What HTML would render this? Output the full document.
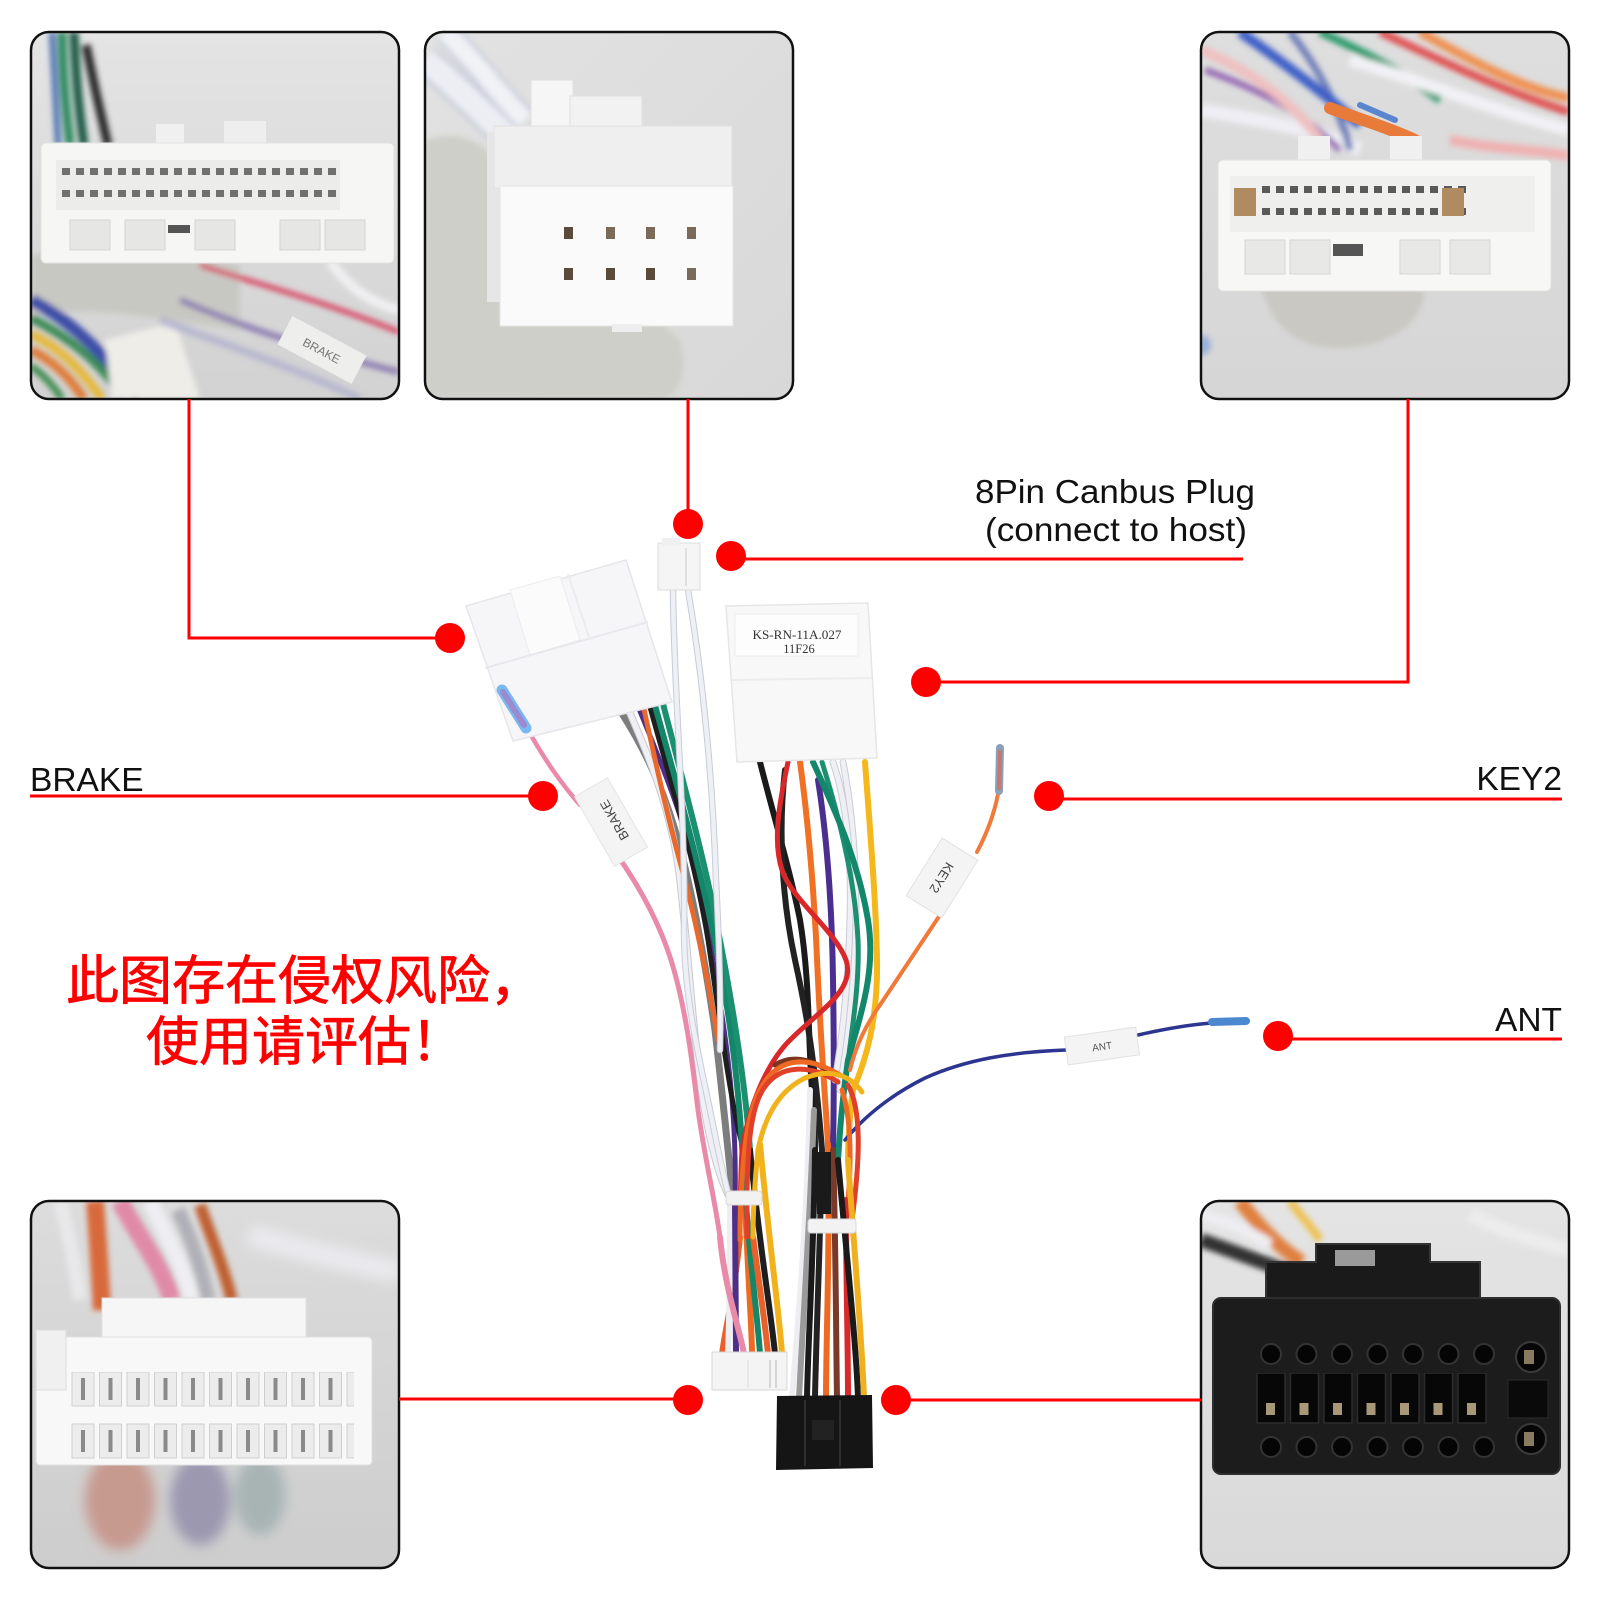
<!DOCTYPE html>
<html><head><meta charset="utf-8">
<style>
html,body{margin:0;padding:0;background:#fff;}
svg{display:block;}
</style></head><body>
<svg width="1600" height="1600" viewBox="0 0 1600 1600" xmlns="http://www.w3.org/2000/svg">
<defs>
  <clipPath id="cTL"><rect x="31" y="32" width="368" height="367" rx="18"/></clipPath>
  <clipPath id="cTM"><rect x="425" y="32" width="368" height="367" rx="18"/></clipPath>
  <clipPath id="cTR"><rect x="1201" y="32" width="368" height="367" rx="18"/></clipPath>
  <clipPath id="cBL"><rect x="31" y="1201" width="368" height="367" rx="18"/></clipPath>
  <clipPath id="cBR"><rect x="1201" y="1201" width="368" height="367" rx="18"/></clipPath>
  <filter id="b3" x="-20%" y="-20%" width="140%" height="140%"><feGaussianBlur stdDeviation="3"/></filter>
  <filter id="b6" x="-20%" y="-20%" width="140%" height="140%"><feGaussianBlur stdDeviation="6"/></filter>
  <linearGradient id="gTL" x1="0" y1="0" x2="0" y2="1"><stop offset="0" stop-color="#e4e4e4"/><stop offset="1" stop-color="#d2d2d2"/></linearGradient>
  <linearGradient id="gTM" x1="0" y1="0" x2="1" y2="1"><stop offset="0" stop-color="#e2e2e2"/><stop offset="1" stop-color="#d8d8d8"/></linearGradient>
  <linearGradient id="gTR" x1="0" y1="0" x2="0" y2="1"><stop offset="0" stop-color="#dedede"/><stop offset="1" stop-color="#d6d6d6"/></linearGradient>
  <linearGradient id="gBL" x1="0" y1="0" x2="0" y2="1"><stop offset="0" stop-color="#dcdcdc"/><stop offset="1" stop-color="#cdcdcd"/></linearGradient>
  <linearGradient id="gBR" x1="0" y1="0" x2="0" y2="1"><stop offset="0" stop-color="#e4e4e4"/><stop offset="1" stop-color="#d9d9d9"/></linearGradient>
  <pattern id="pinTL" x="62" y="168" width="14" height="22" patternUnits="userSpaceOnUse"><rect width="8" height="7" fill="#707070"/></pattern>
  <pattern id="pinTR" x="1262" y="186" width="14" height="22" patternUnits="userSpaceOnUse"><rect width="8" height="7" fill="#5a5a5a"/></pattern>
  <pattern id="slotBL" x="70" y="1370" width="27.5" height="52" patternUnits="userSpaceOnUse"><rect x="2" y="2" width="22" height="34" fill="#ececec" stroke="#cfcfcf" stroke-width="1"/><rect x="11" y="8" width="4" height="22" fill="#8a8a8a"/></pattern>
  <pattern id="holeBR" x="1253" y="1336" width="35.5" height="200" patternUnits="userSpaceOnUse"><circle cx="18" cy="18" r="10" fill="#050505" stroke="#333" stroke-width="2"/></pattern>
  <pattern id="holeBR2" x="1253" y="1429" width="35.5" height="200" patternUnits="userSpaceOnUse"><circle cx="18" cy="18" r="10" fill="#050505" stroke="#333" stroke-width="2"/></pattern>
  <pattern id="cellBR" x="1255" y="1373" width="33.5" height="200" patternUnits="userSpaceOnUse"><rect x="2" y="0" width="28" height="50" fill="#070707" stroke="#2c2c2c" stroke-width="1.5"/><rect x="11" y="30" width="9" height="12" fill="#a89878"/></pattern>
</defs>

<rect width="1600" height="1600" fill="#fff"/>

<!-- ============ TL PANEL ============ -->
<g clip-path="url(#cTL)">
  <rect x="31" y="32" width="368" height="367" fill="url(#gTL)"/>
  <g filter="url(#b3)">
    <path d="M31,255 C90,245 180,250 240,265 L240,330 C170,320 90,305 31,315 Z" fill="#c8c8c3"/>
    <path d="M52,32 L58,145" stroke="#4a6fb0" stroke-width="6" fill="none"/>
    <path d="M62,32 C63,80 66,110 70,145" stroke="#2f8a5e" stroke-width="9" fill="none"/>
    <path d="M74,32 C76,80 79,110 84,145" stroke="#1e5a46" stroke-width="9" fill="none"/>
    <path d="M86,45 C95,90 102,120 108,145" stroke="#2a2a2a" stroke-width="9" fill="none"/>
    <path d="M31,300 C70,320 100,350 140,399" stroke="#3d4da8" stroke-width="12" fill="none"/>
    <path d="M31,318 C70,338 100,362 125,399" stroke="#3b8a55" stroke-width="9" fill="none"/>
    <path d="M31,334 C60,348 80,368 102,399" stroke="#e6b83a" stroke-width="9" fill="none"/>
    <path d="M31,350 C55,362 70,378 84,399" stroke="#e07a35" stroke-width="9" fill="none"/>
    <path d="M31,366 C45,376 55,388 62,399" stroke="#3c8a4e" stroke-width="7" fill="none"/>
    <path d="M105,340 L175,322 L200,399 L112,399 Z" fill="#efede8"/>
    <path d="M200,265 C260,285 320,300 399,332" stroke="#d84060" stroke-width="5" fill="none"/>
    <path d="M180,300 C250,330 320,352 399,372" stroke="#8a7ab0" stroke-width="6" fill="none"/>
    <path d="M160,320 C240,350 300,370 360,399" stroke="#b8b8d0" stroke-width="8" fill="none"/>
    <path d="M330,262 C345,280 360,300 399,310" stroke="#f0f0f2" stroke-width="10" fill="none"/>
  </g>
  <g transform="translate(322,350) rotate(28)">
    <rect x="-42" y="-16" width="84" height="32" fill="#eeeeec"/>
    <text x="0" y="5" font-family="Liberation Sans, sans-serif" font-size="12" fill="#777" text-anchor="middle">BRAKE</text>
  </g>
  <rect x="156" y="124" width="28" height="26" fill="#f0f0f0"/>
  <rect x="224" y="121" width="42" height="29" fill="#eeeeee"/>
  <rect x="41" y="143" width="353" height="120" rx="5" fill="#f6f6f4" stroke="#e2e2e0"/>
  <rect x="56" y="160" width="284" height="50" fill="#ececea"/>
  <rect x="62" y="168" width="276" height="36" fill="url(#pinTL)"/>
  <rect x="70" y="220" width="40" height="30" fill="#e6e6e4" stroke="#d4d4d2"/>
  <rect x="125" y="220" width="40" height="30" fill="#e6e6e4" stroke="#d4d4d2"/>
  <rect x="168" y="225" width="22" height="8" fill="#555"/>
  <rect x="195" y="220" width="40" height="30" fill="#e6e6e4" stroke="#d4d4d2"/>
  <rect x="280" y="220" width="40" height="30" fill="#e6e6e4" stroke="#d4d4d2"/>
  <rect x="325" y="220" width="40" height="30" fill="#e6e6e4" stroke="#d4d4d2"/>
</g>
<rect x="31" y="32" width="368" height="367" rx="18" fill="none" stroke="#111" stroke-width="2.5"/>

<!-- ============ TM PANEL ============ -->
<g clip-path="url(#cTM)">
  <rect x="425" y="32" width="368" height="367" fill="url(#gTM)"/>
  <g filter="url(#b3)">
    <path d="M425,140 C470,125 500,150 515,200 C560,260 640,300 680,340 C690,370 680,399 660,399 L425,399 Z" fill="#cfcfc9"/>
    <path d="M425,60 C455,85 485,115 515,145" stroke="#c9cdd8" stroke-width="32" fill="none"/>
    <path d="M425,60 C455,85 485,115 515,145" stroke="#eceef4" stroke-width="24" fill="none"/>
    <path d="M445,32 C475,60 495,90 525,120" stroke="#ccd0dc" stroke-width="26" fill="none"/>
    <path d="M445,32 C475,60 495,90 525,120" stroke="#f0f2f6" stroke-width="18" fill="none"/>
  </g>
  <rect x="531" y="80" width="42" height="70" fill="#f6f6f6" stroke="#e0e0e0"/>
  <rect x="570" y="96" width="72" height="54" fill="#f2f2f2" stroke="#e0e0e0"/>
  <rect x="487" y="132" width="16" height="170" fill="#e6e6e6"/>
  <rect x="494" y="126" width="238" height="62" fill="#efefef" stroke="#e0e0e0"/>
  <rect x="500" y="186" width="233" height="140" fill="#fafafa" stroke="#e4e4e4"/>
  <rect x="564" y="227" width="9" height="12" fill="#5a4a3a"/>
  <rect x="606" y="227" width="9" height="12" fill="#7a6a5a"/>
  <rect x="646" y="227" width="9" height="12" fill="#7a6a5a"/>
  <rect x="687" y="227" width="9" height="12" fill="#7a6a5a"/>
  <rect x="564" y="268" width="9" height="12" fill="#5a4a3a"/>
  <rect x="606" y="268" width="9" height="12" fill="#5a4a3a"/>
  <rect x="646" y="268" width="9" height="12" fill="#5a4a3a"/>
  <rect x="687" y="268" width="9" height="12" fill="#7a6a5a"/>
  <rect x="612" y="324" width="30" height="8" fill="#eee"/>
</g>
<rect x="425" y="32" width="368" height="367" rx="18" fill="none" stroke="#111" stroke-width="2.5"/>

<!-- ============ TR PANEL ============ -->
<g clip-path="url(#cTR)">
  <rect x="1201" y="32" width="368" height="367" fill="url(#gTR)"/>
  <g filter="url(#b3)">
    <path d="M1201,110 C1260,120 1320,130 1360,150" stroke="#eeeef4" stroke-width="14" fill="none"/>
    <path d="M1205,70 C1260,90 1300,110 1340,150" stroke="#9060b0" stroke-width="6" fill="none"/>
    <path d="M1201,50 C1250,70 1290,100 1320,140" stroke="#f0c0c0" stroke-width="10" fill="none"/>
    <path d="M1290,32 C1320,70 1340,110 1350,150" stroke="#6a7ab8" stroke-width="7" fill="none"/>
    <path d="M1240,32 C1280,60 1320,90 1360,125" stroke="#3c5fc8" stroke-width="10" fill="none"/>
    <path d="M1320,32 C1360,50 1400,70 1440,100" stroke="#2a9a6a" stroke-width="8" fill="none"/>
    <path d="M1380,32 C1440,60 1500,90 1569,112" stroke="#e05050" stroke-width="8" fill="none"/>
    <path d="M1420,32 C1470,60 1520,88 1569,98" stroke="#f09050" stroke-width="9" fill="none"/>
    <path d="M1350,60 C1420,80 1490,110 1569,130" stroke="#f2f2f6" stroke-width="12" fill="none"/>
    <path d="M1450,140 C1500,150 1540,150 1569,156" stroke="#f0b0b0" stroke-width="10" fill="none"/>
    <path d="M1260,285 C1300,280 1400,282 1425,292 C1420,330 1380,350 1330,348 C1290,345 1270,320 1260,285 Z" fill="#c9c8c2"/>
    <circle cx="1201" cy="345" r="10" fill="#9ab0d8"/>
  </g>
  <path d="M1330,108 C1355,118 1385,126 1415,140" stroke="#e87a3a" stroke-width="12" stroke-linecap="round" fill="none"/>
  <path d="M1360,105 L1395,120" stroke="#5a86d0" stroke-width="6" stroke-linecap="round"/>
  <rect x="1298" y="136" width="32" height="26" fill="#f0f0f0"/>
  <rect x="1390" y="136" width="32" height="26" fill="#f0f0f0"/>
  <rect x="1218" y="160" width="333" height="131" rx="5" fill="#f7f7f5" stroke="#e2e2e0"/>
  <rect x="1230" y="176" width="305" height="56" fill="#efefed"/>
  <rect x="1262" y="186" width="210" height="36" fill="url(#pinTR)"/>
  <rect x="1234" y="188" width="22" height="28" fill="#b08a60"/>
  <rect x="1442" y="188" width="22" height="28" fill="#b08a60"/>
  <rect x="1245" y="240" width="40" height="34" fill="#e8e8e6" stroke="#d6d6d4"/>
  <rect x="1290" y="240" width="40" height="34" fill="#e8e8e6" stroke="#d6d6d4"/>
  <rect x="1333" y="244" width="30" height="12" fill="#555"/>
  <rect x="1400" y="240" width="40" height="34" fill="#e8e8e6" stroke="#d6d6d4"/>
  <rect x="1450" y="240" width="40" height="34" fill="#e8e8e6" stroke="#d6d6d4"/>
</g>
<rect x="1201" y="32" width="368" height="367" rx="18" fill="none" stroke="#111" stroke-width="2.5"/>

<!-- ============ BL PANEL ============ -->
<g clip-path="url(#cBL)">
  <rect x="31" y="1201" width="368" height="367" fill="url(#gBL)"/>
  <g filter="url(#b6)">
    <ellipse cx="120" cy="1500" rx="35" ry="50" fill="#c79a90"/>
    <ellipse cx="200" cy="1500" rx="30" ry="45" fill="#9c98b0"/>
    <ellipse cx="260" cy="1495" rx="25" ry="40" fill="#a8b4b4"/>
    <path d="M250,1235 C300,1250 350,1262 399,1272" stroke="#eaeaee" stroke-width="22" fill="none"/>
  </g>
  <g filter="url(#b3)">
    <path d="M95,1201 C98,1240 100,1270 102,1310" stroke="#d8693a" stroke-width="18" fill="none"/>
    <path d="M120,1201 C140,1240 160,1262 172,1300" stroke="#e08aa8" stroke-width="18" fill="none"/>
    <path d="M150,1201 C168,1240 182,1262 192,1300" stroke="#eeeef2" stroke-width="16" fill="none"/>
    <path d="M178,1210 C192,1240 202,1270 208,1300" stroke="#b0b0b8" stroke-width="14" fill="none"/>
    <path d="M200,1205 C212,1240 222,1262 232,1300" stroke="#c06030" stroke-width="12" fill="none"/>
    <path d="M60,1201 C70,1240 76,1270 80,1300" stroke="#e8e8ea" stroke-width="14" fill="none"/>
  </g>
  <rect x="102" y="1298" width="204" height="42" fill="#f6f6f6" stroke="#e0e0e0"/>
  <rect x="36" y="1337" width="336" height="128" rx="4" fill="#f8f8f8" stroke="#e0e0e0"/>
  <rect x="36" y="1330" width="30" height="60" fill="#f0f0f0" stroke="#dcdcdc"/>
  <rect x="70" y="1372" width="284" height="90" fill="url(#slotBL)"/>
</g>
<rect x="31" y="1201" width="368" height="367" rx="18" fill="none" stroke="#111" stroke-width="2.5"/>

<!-- ============ BR PANEL ============ -->
<g clip-path="url(#cBR)">
  <rect x="1201" y="1201" width="368" height="367" fill="url(#gBR)"/>
  <g filter="url(#b3)">
    <path d="M1201,1240 C1230,1250 1260,1262 1290,1272" stroke="#333" stroke-width="14" fill="none"/>
    <path d="M1240,1201 C1262,1230 1282,1250 1302,1262" stroke="#e08040" stroke-width="14" fill="none"/>
    <path d="M1201,1215 C1230,1222 1250,1232 1270,1245" stroke="#eeeef2" stroke-width="12" fill="none"/>
    <path d="M1290,1201 C1300,1215 1310,1225 1320,1240" stroke="#f0c050" stroke-width="8" fill="none"/>
    <path d="M1470,1215 C1500,1230 1530,1240 1569,1250" stroke="#ececec" stroke-width="14" fill="none"/>
  </g>
  <path d="M1266,1300 L1266,1262 L1316,1262 L1316,1244 L1430,1244 L1430,1262 L1480,1262 L1480,1300 Z" fill="#1a1a1a" stroke="#333" stroke-width="2"/>
  <rect x="1335" y="1250" width="40" height="16" fill="#9a9a9a"/>
  <rect x="1213" y="1298" width="347" height="176" rx="8" fill="#1c1c1c" stroke="#2e2e2e" stroke-width="2"/>
  <rect x="1253" y="1336" width="249" height="36" fill="url(#holeBR)"/>
  <rect x="1255" y="1373" width="235" height="52" fill="url(#cellBR)"/>
  <rect x="1253" y="1429" width="249" height="36" fill="url(#holeBR2)"/>
  <circle cx="1531" cy="1357" r="15" fill="#060606" stroke="#3a3a3a" stroke-width="2"/>
  <circle cx="1531" cy="1439" r="15" fill="#060606" stroke="#3a3a3a" stroke-width="2"/>
  <rect x="1524" y="1350" width="10" height="14" fill="#8a7a60"/>
  <rect x="1524" y="1432" width="10" height="14" fill="#8a7a60"/>
  <rect x="1508" y="1380" width="40" height="38" fill="#0a0a0a" stroke="#2c2c2c"/>
</g>
<rect x="1201" y="1201" width="368" height="367" rx="18" fill="none" stroke="#111" stroke-width="2.5"/>

<!-- ============ HARNESS ============ -->
<g fill="none" stroke-linecap="round">
  <path d="M617,706 C640,740 660,780 675,830 C690,880 705,960 715,1030 C722,1090 728,1150 733,1198" stroke="#7d7d7d" stroke-width="7"/>
  <path d="M627,706 C650,760 672,810 680,880 C688,950 692,1020 700,1080 C708,1140 720,1180 730,1198" stroke="#c8c8d0" stroke-width="7.5"/>
  <path d="M627,706 C650,760 672,810 680,880 C688,950 692,1020 700,1080 C708,1140 720,1180 730,1198" stroke="#f0f0f4" stroke-width="5.5"/>
  <path d="M637,704 C660,760 685,820 698,880 C712,950 722,1010 728,1060 C734,1110 736,1160 735,1200" stroke="#4e2f87" stroke-width="5"/>
  <path d="M642,700 C655,760 668,820 685,880 C700,940 710,990 718,1040" stroke="#e8692e" stroke-width="5"/>
  <path d="M648,700 C670,780 695,860 708,940 C720,1020 730,1100 742,1144" stroke="#1e1e1e" stroke-width="5"/>
  <path d="M653,698 C670,760 690,830 706,900 C722,970 735,1040 742,1144" stroke="#14876a" stroke-width="6"/>
  <path d="M661,696 C680,770 702,850 716,920 C732,1000 745,1080 750,1150" stroke="#1a9070" stroke-width="6"/>
  <path d="M673,590 C674,700 686,820 684,930 C684,1000 700,1060 712,1120 C722,1170 727,1190 730,1200" stroke="#c8ccd6" stroke-width="6.5"/>
  <path d="M673,590 C674,700 686,820 684,930 C684,1000 700,1060 712,1120 C722,1170 727,1190 730,1200" stroke="#eef0f5" stroke-width="4.5"/>
  <path d="M688,590 C700,660 712,760 716,880 C720,960 721,1010 720,1050" stroke="#c8ccd6" stroke-width="6.5"/>
  <path d="M688,590 C700,660 712,760 716,880 C720,960 721,1010 720,1050" stroke="#eef0f5" stroke-width="4.5"/>
  <path d="M528,730 C545,760 560,782 580,805" stroke="#e88aa8" stroke-width="4.5"/>
  <path d="M615,852 C635,880 660,920 674,970 C688,1020 693,1070 698,1110 C705,1160 715,1200 720,1237" stroke="#e88aa8" stroke-width="5"/>

  <path d="M740,1237 C735,1290 725,1330 722,1354" stroke="#e8602a" stroke-width="6"/>
  <path d="M730,1198 C730,1280 729,1330 728,1354" stroke="#eeeef2" stroke-width="6"/>
  <path d="M735,1200 C736,1280 736,1330 736,1354" stroke="#4e2f87" stroke-width="6"/>
  <path d="M720,1237 C725,1290 740,1330 744,1354" stroke="#e88aa8" stroke-width="6"/>
  <path d="M745,1200 C748,1280 752,1330 752,1354" stroke="#ee6a22" stroke-width="6"/>
  <path d="M742,1144 C748,1250 758,1320 760,1354" stroke="#14876a" stroke-width="6"/>
  <path d="M753,1237 C760,1290 766,1330 768,1354" stroke="#e8602a" stroke-width="6"/>
  <path d="M750,1150 C760,1250 772,1320 775,1354" stroke="#1e1e1e" stroke-width="6"/>
  <path d="M760,1144 C770,1250 780,1320 782,1354" stroke="#f2b21c" stroke-width="6"/>

  <path d="M760,762 C772,810 790,870 800,920 C810,980 808,1040 812,1090 C815,1120 815,1140 815,1150" stroke="#1a1a1a" stroke-width="6"/>
  <path d="M785,770 C778,830 782,900 795,960 C806,1010 815,1060 822,1150" stroke="#222" stroke-width="6"/>
  <path d="M800,762 C808,820 815,900 818,980 C822,1060 826,1110 828,1144" stroke="#f07025" stroke-width="6"/>
  <path d="M818,780 C826,830 832,900 833,980 C834,1040 834,1100 833,1150" stroke="#4a2f90" stroke-width="6"/>
  <path d="M843,762 C854,820 858,880 855,950 C852,1010 845,1050 840,1090" stroke="#c8ccd6" stroke-width="7"/>
  <path d="M843,762 C854,820 858,880 855,950 C852,1010 845,1050 840,1090" stroke="#f0f0f4" stroke-width="5"/>
  <path d="M833,762 C846,800 852,850 850,920 C848,990 842,1040 835,1080" stroke="#c8ccd6" stroke-width="7"/>
  <path d="M833,762 C846,800 852,850 850,920 C848,990 842,1040 835,1080" stroke="#f0f0f4" stroke-width="5"/>
  <path d="M822,762 C840,820 855,880 858,940 C860,990 850,1040 843,1100" stroke="#1b8f70" stroke-width="5"/>
  <path d="M813,762 C835,810 858,860 868,920 C876,970 862,1010 848,1060 C842,1100 840,1130 838,1160" stroke="#13876b" stroke-width="6"/>
  <path d="M865,762 C870,830 876,900 877,960 C878,1020 866,1060 853,1090 C850,1110 848,1140 848,1160" stroke="#f5b81c" stroke-width="6"/>
  <path d="M788,762 C780,800 772,840 782,870 C792,900 835,930 846,960 C856,990 820,1010 790,1040 C765,1065 748,1110 742,1150 C740,1190 740,1220 740,1237" stroke="#d9282a" stroke-width="5"/>

  <path d="M998,794 C994,815 986,835 977,852" stroke="#f07a3a" stroke-width="4"/>
  <path d="M940,915 C920,945 900,975 880,1005 C866,1025 856,1045 850,1070" stroke="#f07a3a" stroke-width="4"/>

  <path d="M1066,1050 C1010,1052 965,1060 925,1078 C895,1093 868,1112 845,1140" stroke="#2c3590" stroke-width="3.5"/>
  <path d="M1138,1035 C1160,1030 1185,1025 1212,1023" stroke="#2c3590" stroke-width="3.5"/>

  <path d="M830,1072 C810,1058 790,1055 775,1065" stroke="#7a3520" stroke-width="5"/>
  <path d="M840,1075 C815,1060 790,1055 770,1075 C752,1095 745,1130 742,1180 C740,1210 740,1225 740,1240" stroke="#ee6a22" stroke-width="5"/>
  <path d="M838,1082 C810,1064 780,1064 764,1088 C750,1108 746,1150 747,1237" stroke="#e0402a" stroke-width="5"/>
  <path d="M862,1092 C850,1075 830,1068 805,1078 C780,1090 765,1115 758,1150 C754,1190 753,1220 753,1237" stroke="#f2b21c" stroke-width="5"/>
  <path d="M848,1085 C862,1110 860,1160 852,1220" stroke="#e0402a" stroke-width="5"/>
  <path d="M842,1090 C852,1120 852,1170 846,1220" stroke="#ee6a22" stroke-width="5"/>

  <path d="M810,1090 C808,1200 800,1300 792,1398" stroke="#eeeef2" stroke-width="6"/>
  <path d="M814,1110 C810,1220 803,1320 799,1398" stroke="#9a9a9a" stroke-width="6"/>
  <path d="M815,1150 C814,1250 808,1340 807,1398" stroke="#1a1a1a" stroke-width="6"/>
  <path d="M822,1150 C820,1250 816,1340 815,1398" stroke="#222" stroke-width="6"/>
  <path d="M828,1144 C830,1250 826,1340 826,1398" stroke="#ee6a22" stroke-width="6"/>
  <path d="M833,1150 C836,1250 836,1340 837,1398" stroke="#7a3a2a" stroke-width="6"/>
  <path d="M846,1200 C846,1280 848,1340 848,1398" stroke="#d82a2a" stroke-width="6"/>
  <path d="M838,1160 C846,1250 856,1340 858,1398" stroke="#1a1a1a" stroke-width="6"/>
  <path d="M848,1160 C855,1260 862,1340 864,1398" stroke="#f0b020" stroke-width="6"/>
</g>

<rect x="817" y="1152" width="14" height="62" fill="#1a1a1a"/>
<rect x="726" y="1191" width="36" height="14" rx="3" fill="#f2f2f2" stroke="#d8d8d8"/>
<rect x="808" y="1219" width="48" height="14" rx="3" fill="#f2f2f2" stroke="#d8d8d8"/>

<polygon points="466,606 626,560 672,702 513,741" fill="#f6f6f8" stroke="#e6e6ea" stroke-width="1.5"/>
<polygon points="510,590 560,576 580,640 530,655" fill="#fbfbfc" stroke="#ececf0"/>
<line x1="485" y1="668" x2="648" y2="622" stroke="#e8e8ec" stroke-width="2"/>
<line x1="568" y1="574" x2="590" y2="640" stroke="#ececf0" stroke-width="2"/>
<line x1="502" y1="690" x2="526" y2="728" stroke="#7ab8f0" stroke-width="11" stroke-linecap="round"/>
<line x1="503" y1="692" x2="524" y2="725" stroke="#9a8ad0" stroke-width="6" stroke-linecap="round"/>
<g transform="translate(611,822) rotate(60)">
  <rect x="-40" y="-19" width="80" height="38" fill="#f4f4f4" stroke="#e4e4e4"/>
  <text x="0" y="5" transform="rotate(180)" font-family="Liberation Sans, sans-serif" font-size="13" fill="#444" text-anchor="middle" dominant-baseline="middle">BRAKE</text>
</g>

<rect x="658" y="543" width="42" height="47" fill="#f5f5f5" stroke="#dcdcdc"/>
<rect x="662" y="538" width="18" height="8" fill="#f0f0f0"/>
<line x1="686" y1="548" x2="686" y2="586" stroke="#e0e0e0" stroke-width="2"/>

<polygon points="726,606 868,603 877,758 737,762" fill="#f8f8f8" stroke="#e6e6e6" stroke-width="1.5"/>
<rect x="735" y="614" width="123" height="42" fill="#fdfdfd" stroke="#ededed"/>
<line x1="730" y1="680" x2="872" y2="678" stroke="#ececec" stroke-width="2"/>
<text x="797" y="639" font-family="Liberation Serif, serif" font-size="12.5" fill="#333" text-anchor="middle" textLength="89" lengthAdjust="spacingAndGlyphs">KS-RN-11A.027</text>
<text x="799" y="653" font-family="Liberation Serif, serif" font-size="12.5" fill="#333" text-anchor="middle">11F26</text>

<line x1="1000" y1="748" x2="999" y2="791" stroke="#8aa0b8" stroke-width="8" stroke-linecap="round"/>
<line x1="1000" y1="752" x2="999" y2="788" stroke="#c07a70" stroke-width="4" stroke-linecap="round"/>
<g transform="translate(942,878) rotate(122)">
  <rect x="-34" y="-21" width="68" height="42" fill="#f4f4f4" stroke="#e2e2e2"/>
  <text x="0" y="5" font-family="Liberation Sans, sans-serif" font-size="13" fill="#444" text-anchor="middle">KEY2</text>
</g>

<line x1="1212" y1="1022" x2="1246" y2="1021" stroke="#4a88d0" stroke-width="8" stroke-linecap="round"/>
<g transform="translate(1102,1046) rotate(-8)">
  <rect x="-36" y="-14" width="72" height="28" fill="#f4f4f4" stroke="#e2e2e2"/>
  <text x="0" y="4" font-family="Liberation Sans, sans-serif" font-size="10" fill="#555" text-anchor="middle">ANT</text>
</g>

<rect x="712" y="1352" width="75" height="38" fill="#f4f4f4" stroke="#d6d6d6"/>
<line x1="748" y1="1360" x2="748" y2="1388" stroke="#dcdcdc"/>
<line x1="770" y1="1360" x2="770" y2="1388" stroke="#b8b8b8"/>
<line x1="776" y1="1360" x2="776" y2="1388" stroke="#b8b8b8"/>
<path d="M777,1396 L872,1395 L873,1468 L776,1470 Z" fill="#151515"/>
<line x1="805" y1="1400" x2="805" y2="1466" stroke="#2e2e2e" stroke-width="2"/>
<line x1="840" y1="1400" x2="840" y2="1466" stroke="#2e2e2e" stroke-width="2"/>
<rect x="812" y="1420" width="22" height="20" fill="#222"/>

<!-- ============ RED CALLOUTS ============ -->
<g stroke="#ff0000" stroke-width="3" fill="none">
  <path d="M189,399 V638 H450"/>
  <path d="M688,399 V524"/>
  <path d="M731,559 H1243"/>
  <path d="M1408,399 V682 H926"/>
  <path d="M30,796 H543"/>
  <path d="M1049,799 H1562"/>
  <path d="M1278,1039 H1562"/>
  <path d="M399,1399 H688"/>
  <path d="M896,1400 H1201"/>
</g>
<g fill="#ff0000">
  <circle cx="450" cy="638" r="15"/>
  <circle cx="688" cy="524" r="15"/>
  <circle cx="731" cy="556" r="15"/>
  <circle cx="926" cy="682" r="15"/>
  <circle cx="543" cy="796" r="15"/>
  <circle cx="1049" cy="796" r="15"/>
  <circle cx="1278" cy="1036" r="15"/>
  <circle cx="688" cy="1400" r="15"/>
  <circle cx="896" cy="1400" r="15"/>
</g>

<!-- ============ LABELS ============ -->
<g font-family="Liberation Sans, sans-serif" fill="#111">
  <text x="1115" y="503" font-size="33.5" text-anchor="middle" textLength="280" lengthAdjust="spacingAndGlyphs">8Pin Canbus Plug</text>
  <text x="1116" y="541" font-size="33.5" text-anchor="middle" textLength="262" lengthAdjust="spacingAndGlyphs">(connect to host)</text>
  <text x="30" y="791" font-size="33.5">BRAKE</text>
  <text x="1562" y="790" font-size="33.5" text-anchor="end">KEY2</text>
  <text x="1562" y="1031" font-size="33.5" text-anchor="end">ANT</text>
</g>
<g font-family="Liberation Sans, 'Noto Sans CJK SC', 'WenQuanYi Zen Hei', sans-serif" fill="#ff0000" stroke="#ff0000" stroke-width="0.8" font-size="53">
  <text x="66" y="999">此图存在侵权风险，</text>
  <text x="146" y="1060">使用请评估！</text>
</g>
</svg>
</body></html>
